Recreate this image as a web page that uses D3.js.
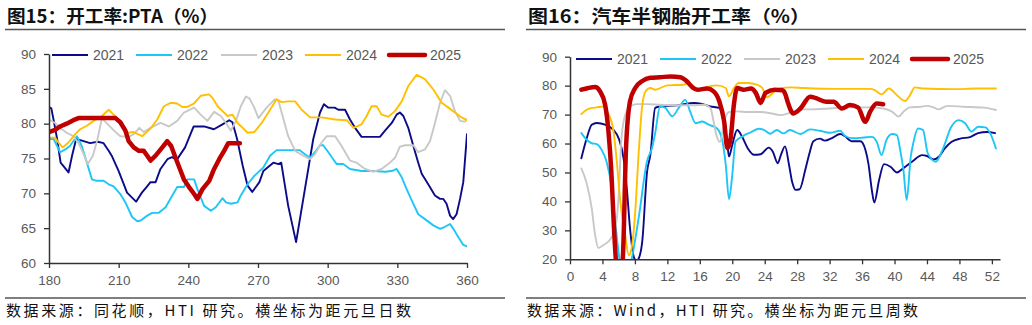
<!DOCTYPE html>
<html><head><meta charset="utf-8">
<script src="https://cdn.jsdelivr.net/npm/d3@7"></script>
<style>body{margin:0;background:#fff}svg{display:block}</style>
</head><body>
<svg id="c" width="1032" height="325"></svg>
<script>
// ---------- DATA ----------
const years = ["2021","2022","2023","2024","2025"];
const colors = ["#0b0b8a","#1ec6f6","#c8c8c8","#ffc000","#c00000"];

const leftTitle = "图15：开工率:PTA（%）";
const rightTitle = "图16：汽车半钢胎开工率（%）";
const leftSource = "数据来源：同花顺，HTI 研究。横坐标为距元旦日数";
const rightSource = "数据来源：Wind，HTI 研究。横坐标为距元旦周数";

const leftXTicks = [180,210,240,270,300,330,360];
const leftYTicks = [60,65,70,75,80,85,90];
const rightXTicks = [0,4,8,12,16,20,24,28,32,36,40,44,48,52];
const rightYTicks = [20,30,40,50,60,70,80,90];

// PTA operating rate, [day from Jan 1, %]
const pta2021 = [[180,82.4],[181,82.2],[182,80.5],[183.5,77.8],[185,74.4],[186.5,73.8],[188.4,73],[190,75.5],[191.7,77.8],[194.9,77.5],[197.7,77.2],[201,77.4],[203.5,77.2],[205.7,76.1],[207,75.4],[210,73.2],[213.6,70.1],[217.5,68.8],[220,70.1],[222,70.9],[223.7,71.6],[225.9,71.6],[228,73.5],[231,74.9],[233,75.2],[235,74.8],[238.6,76.6],[242.3,79.6],[246.8,79.6],[251,79.2],[254.7,79.9],[257.6,80.5],[259,80.2],[261,77.8],[263.4,74],[265.5,71.1],[267.5,70.2],[270.6,71.6],[272.3,73.2],[276.6,74.4],[278.8,74.2],[280,74.4],[283,68.2],[286.4,63],[290.2,70.6],[293.8,77.8],[296.7,81.6],[298.4,82.8],[300.3,82.3],[303,82.3],[304.6,82],[307.5,82],[309.6,80.6],[311.8,79.4],[314.6,78.1],[318.2,78.1],[322.5,78.1],[324.7,79],[327.6,80.1],[329.7,81.3],[331.1,81.6],[332.6,81.1],[334.7,79.4],[336.9,76.8],[339,74.4],[340.5,72.8],[343.3,71.3],[346.2,69.7],[348.4,69.2],[349.8,69.2],[351.2,68.5],[352.7,66.8],[354,66.3],[355.5,67],[357,69.2],[358.4,71.6],[360,78.5]];
const pta2022 = [[180,77.8],[182,77.8],[184.8,75.9],[187,76.3],[189,76.8],[192,78.2],[194.1,76.8],[196.3,74.4],[198.5,72],[200.6,71.8],[203.5,71.8],[205.7,71.3],[207.8,71],[210.7,69.9],[212.9,68.7],[215.8,66.6],[218,66],[219.5,66.1],[222.3,66.8],[224.4,67.2],[227.3,67.2],[230.2,68],[233.1,69.7],[235.2,70.9],[238.1,70.9],[239.6,72],[242.5,72],[243.9,70.6],[246.8,68.2],[249.7,67.5],[251.8,68],[254.7,69.3],[256.2,68.7],[258.3,68.5],[261.2,68.7],[262.6,69.7],[265.5,71.3],[268.4,72.5],[272.3,73.7],[275.2,75.4],[278,76.2],[283,76.2],[288,76.2],[290.2,75.6],[292.4,75.1],[294.5,75.9],[296.7,76.9],[298.1,76.9],[300.3,75.9],[302.4,74.9],[303.9,74.2],[306.7,74.2],[309.6,73.5],[314.6,73.2],[320.4,73.2],[324.7,73.1],[327.6,73.2],[329.7,73.5],[331.9,72.3],[334,70.6],[336.2,69],[339,67],[341.9,66.3],[345.5,65.4],[348.4,64.9],[350.5,65.2],[352.7,65.6],[354.1,64.9],[356.3,63.7],[358.4,62.6],[360,62.4]];
const pta2023 = [[180,80.6],[182.6,80.1],[184.8,79.4],[187.6,78.7],[190.5,78.2],[192.7,77.2],[194.6,75.9],[196.7,74.2],[198.9,75.4],[200.9,77.8],[202.8,80.8],[205,80],[208,79],[210.7,78.2],[214.3,78.1],[216.5,78.5],[218.9,79.4],[220.8,78.8],[223.7,79.4],[228,80.1],[231.6,79.6],[235.2,80.4],[238.1,81.6],[242.5,82.3],[245.3,81.3],[248.2,80.4],[251.1,81.7],[254,81.1],[256.2,80.1],[258.3,79],[260.5,80.4],[262.6,82.5],[264.8,83.9],[266.4,83.6],[268.4,82.3],[270.2,80.8],[273.7,82.3],[277.3,83.5],[278.8,83.3],[281,80.6],[283,78.2],[286,76.1],[289.5,75.4],[292.4,74.9],[294.5,75.6],[297.4,77.3],[299.6,78.2],[303.2,78.2],[306,76.8],[309.6,74.7],[312.5,74.4],[316.1,73.5],[319.7,73.1],[323.2,73.5],[326.8,74.4],[329,75.1],[331.1,76.7],[333.3,76.9],[336.9,76.9],[339,75.9],[341.9,76.3],[344.1,77.5],[346.2,80.1],[348.4,83],[350.5,84.8],[352.7,84],[354.8,81.8],[357,80.4],[359.1,80.3],[360,80.6]];
const pta2024 = [[180,78],[182.6,78],[184,77.3],[185.9,76.6],[188.4,77.3],[191.3,78.5],[193.4,79.2],[196.3,79.7],[199.2,80.4],[202.8,81.1],[205.7,82],[207.8,81.3],[210.7,80.4],[213.6,78.7],[216.5,78.8],[220.1,78.2],[223.7,79.3],[226.6,80.6],[229.5,82.5],[232.4,83],[235.2,82.9],[237.4,82.4],[239.6,82.4],[242.5,82.9],[245.3,84],[248.9,84.2],[250.4,83.7],[252.6,82.5],[254.7,81.8],[256.9,81.1],[259,81.3],[261.2,80.1],[263.4,79.4],[265.5,78.7],[268.4,78.8],[271.6,80.1],[275.2,82],[278,83.5],[280.2,83.1],[283,83.2],[286,83.2],[288.8,82],[292.4,80.9],[297.4,80.9],[303.2,80.6],[308.2,80.5],[311.1,79.4],[314.6,79.9],[316.8,81.1],[318.9,82.5],[321.1,82.5],[323.2,81.3],[326.1,81],[329,81.8],[331.9,83.2],[334.7,85.4],[338.3,87],[341.9,86.4],[345.5,84.9],[349.1,83],[352,82.3],[354.8,81.6],[357.7,80.9],[360,80.5]];
const pta2025 = [[180,78.8],[182.6,79.1],[184.8,79.6],[187.6,80],[190.5,80.5],[192.7,80.8],[197.7,80.8],[205,80.8],[208.6,80.8],[210.7,80.2],[212.9,79],[214.3,77.5],[216.5,76.6],[218.7,76.1],[220.8,76.1],[222.3,75.4],[223.7,74.7],[225.9,75.4],[228.8,76.6],[230.9,77.5],[232.6,76.8],[234.5,75.1],[236.7,73.2],[238.1,72],[240.3,70.9],[242.5,69.9],[243.9,69.2],[246.1,70.6],[249,71.8],[251.1,73.5],[253.3,74.9],[255.4,76.1],[257.2,77.2],[259.8,77.2],[262.2,77.2]];

// Semi-steel tire operating rate, [week from Jan 1, %]
const tire2021 = [[1.4,54.9],[2.06,61.8],[2.68,66.5],[3.3,67.1],[4.33,66.5],[5.36,64.7],[6,61.8],[6.6,54.9],[7,44.5],[7.4,30.6],[7.9,20.5],[8.2,19.5],[8.5,20.5],[8.9,26],[9.5,50.3],[9.9,56],[10.5,72.3],[11.1,72.8],[13.2,73.2],[15.3,74],[16.1,73.8],[17.3,72.8],[18.4,72.3],[19,66.5],[19.4,59.5],[19.6,55.5],[20,59.5],[20.6,64.7],[21.2,62.4],[21.9,58.4],[22.7,56.1],[23.5,56.3],[24.5,58.6],[25,57.2],[25.6,53.2],[26,56.1],[26.5,59],[27,52.6],[27.4,46.5],[27.8,44],[28.3,44.2],[29,50.9],[29.5,56.5],[30,60.8],[30.8,61.7],[31.4,61],[32.3,61.9],[33.3,63.3],[33.9,62.5],[34.7,60.8],[35.8,60.8],[36.4,57.9],[36.8,52.7],[37.2,44],[37.5,39.6],[38.1,47.4],[38.7,52.9],[39.5,52],[40.3,50],[41.1,51.5],[42.2,53.8],[43.4,56],[44,55.7],[44.8,54.5],[45.5,55.5],[46.2,58.3],[47,60.5],[48.1,61.7],[49.3,62.2],[50.3,63.6],[51.4,64],[52.4,63.6]];
const tire2022 = [[1.4,63.6],[2.06,61.3],[2.68,60.1],[3.3,59.8],[3.9,57.8],[4.5,53.8],[5.15,44.5],[5.57,33],[6.1,20],[6.8,12],[7.6,20],[8.5,35],[9.5,54],[10.1,58.4],[10.5,63.6],[11.1,72.8],[11.75,72.3],[12.6,69.4],[13.4,72.3],[14.2,75.1],[14.8,71.1],[15.5,67],[16.3,67.6],[17.1,66.5],[18.1,65.3],[18.8,60.7],[19.2,52.6],[19.6,40.8],[20,49.1],[20.4,60.7],[21.2,62.4],[22.3,63.9],[23.3,65.1],[23.9,64.7],[24.7,63.4],[25.5,64.7],[26.3,63.5],[27.1,64.7],[28.4,63.3],[29.6,64.9],[30.8,64.4],[32,63.7],[33.3,64.4],[33.9,62.6],[34.9,61.8],[36.2,62.1],[37.2,62.3],[37.8,60.6],[38.4,56],[39,61.2],[39.7,63.3],[40.3,62.9],[40.7,57.7],[41.1,50.8],[41.5,40.5],[42,55.5],[42.3,60],[42.9,65.2],[43.5,64.7],[44.1,56.6],[45.1,53.7],[45.9,57.7],[47,65.8],[47.9,68.1],[48.7,67],[49.5,64.1],[50.3,65.8],[51.2,65.6],[51.8,63.5],[52.5,58.3]];
const tire2023 = [[1.4,51.4],[2.06,46.2],[2.68,37.6],[3.1,28.3],[3.5,23.9],[4.1,24.9],[5.0,27],[5.6,31],[6.0,42],[6.3,60],[6.7,68.8],[7.4,72.8],[8.25,73.6],[9.5,73.6],[11.1,73.4],[13.2,73.2],[15.3,73.2],[16.5,73.4],[17.3,72.3],[17.7,67.6],[18.1,62.4],[18.5,60.5],[19,67.6],[19.6,70.9],[20.6,71.1],[21.9,70.9],[23.5,70.9],[25.2,70.2],[25.9,69.8],[27.1,70.6],[28.4,71.8],[29.6,71.8],[32,72.1],[34.5,72.5],[37,72.5],[38.6,72.1],[39.7,71],[40.5,69.3],[41.1,71],[41.9,72.5],[43.2,72.7],[44,73],[44.8,72.5],[45.4,71.8],[46.5,73],[48.5,72.7],[51,72.4],[52.5,71.6]];
const tire2024 = [[1.4,70.2],[2.27,72],[3.3,72.5],[4.1,72.8],[4.7,70.5],[5.36,64.2],[5.77,53.8],[6.2,39.9],[6.8,28.3],[7.25,21.4],[7.6,24],[8.04,36.4],[8.45,56.1],[8.87,72.3],[9.3,78],[9.9,79.2],[10.5,78.6],[12,80.1],[14,80.3],[14.6,80.9],[15.3,79.2],[16.1,78.3],[16.7,79.4],[18.1,80.1],[19.2,79.2],[19.6,76.3],[20.2,79.2],[20.8,80.9],[21.9,80.9],[23.1,80.3],[23.7,79.2],[24.3,76],[25.2,78],[26,79.2],[27.2,79.4],[28.8,79.2],[32.9,78.9],[37,78.9],[37.6,78.4],[38.4,77],[39.3,79],[40.3,76.7],[41.3,74.7],[41.9,76.7],[42.5,79.4],[43.6,79],[47.3,78.8],[50.1,79],[52.5,79]];
const tire2025 = [[1.4,78.6],[2.27,79.2],[3.1,79.5],[3.7,78],[4.33,73.4],[4.74,64.2],[5.1,50],[5.4,32],[5.65,20],[6.0,12],[6.5,20],[6.9,58],[7.4,74.6],[8.04,79.2],[8.87,81.5],[9.9,82.7],[11.1,82.9],[12.4,83.2],[13.6,82.9],[14.4,81.5],[15.1,79.4],[15.7,78.6],[16.9,79],[17.7,78],[18.4,74.6],[19,67.6],[19.4,58.4],[19.8,61.8],[20.2,73.4],[20.6,79.2],[21.4,78.6],[22.3,79],[22.9,77.5],[23.5,74],[24.1,77.5],[25.2,78.6],[26.2,78.4],[26.5,77.3],[26.9,73.8],[27.5,70.4],[28.4,72.1],[29.6,76.2],[30.4,75.6],[31.6,74.4],[32.5,74.4],[33.5,72.1],[34.5,73.3],[35.5,72.5],[36.4,67.5],[37,71],[37.8,73.8],[38.6,73.6]];

const ptaSeries = [pta2021, pta2022, pta2023, pta2024, pta2025];
const tireSeries = [tire2021, tire2022, tire2023, tire2024, tire2025];

// ---------- DRAW ----------
const svg = d3.select("#c");
const FONT = "'Liberation Sans', Arial, sans-serif";
const CJK = "'Noto Sans CJK SC', sans-serif";
const TXT = "#595959";

function frame(x0, x1, title, titleLen, source, sourceLen){
  svg.append("text").attr("x", x0+2).attr("y", 23).attr("font-family", CJK)
    .attr("font-weight", "bold").attr("font-size", 18).attr("fill", "#111")
    .attr("textLength", titleLen).attr("lengthAdjust", "spacingAndGlyphs").text(title);
  svg.append("line").attr("x1", x0).attr("x2", x1).attr("y1", 29.5).attr("y2", 29.5)
    .attr("stroke", "#555").attr("stroke-width", 1.5);
  svg.append("line").attr("x1", x0).attr("x2", x1).attr("y1", 298).attr("y2", 298)
    .attr("stroke", "#555").attr("stroke-width", 1.5);
  svg.append("text").attr("x", x0+1).attr("y", 316).attr("font-family", CJK)
    .attr("font-size", 15).attr("fill", "#111")
    .attr("textLength", sourceLen).attr("lengthAdjust", "spacing").text(source);
}

function chart(opt){
  const x = d3.scaleLinear().domain(opt.xDomain).range(opt.xRange);
  const y = d3.scaleLinear().domain(opt.yDomain).range(opt.yRange);
  const g = svg.append("g");
  const clipId = "clip" + opt.id;
  svg.append("defs").append("clipPath").attr("id", clipId).append("rect")
    .attr("x", opt.xRange[0]).attr("y", opt.yRange[1] - 2)
    .attr("width", opt.xRange[1] - opt.xRange[0]).attr("height", opt.yRange[0] - opt.yRange[1] + 2);

  const line = d3.line().x(d => x(d[0])).y(d => y(d[1])).curve(opt.curve);
  const lg = g.append("g").attr("clip-path", `url(#${clipId})`);
  opt.series.forEach((s, i) => {
    lg.append("path").datum(s).attr("d", line).attr("fill", "none")
      .attr("stroke", colors[i]).attr("stroke-width", i === 4 ? 4.5 : 1.9)
      .attr("stroke-linejoin", "round").attr("stroke-linecap", "round");
  });

  // axes
  const ax = g.append("g").attr("transform", `translate(0,${opt.yRange[0]})`)
    .call(d3.axisBottom(x).tickValues(opt.xTicks).tickSize(5).tickSizeOuter(0).tickPadding(7).tickFormat(d3.format("d")));
  const ay = g.append("g").attr("transform", `translate(${opt.xRange[0]},0)`)
    .call(d3.axisLeft(y).tickValues(opt.yTicks).tickSize(5).tickSizeOuter(0).tickPadding(opt.yPad).tickFormat(d3.format("d")));
  [ax, ay].forEach(a => {
    a.select(".domain").attr("stroke", "#333").attr("stroke-width", 1.5);
    a.selectAll(".tick line").attr("stroke", "#333").attr("stroke-width", 1.3);
    a.selectAll(".tick text").attr("fill", TXT).attr("font-family", FONT).attr("font-size", 13.5);
  });

  // legend
  const lgd = g.append("g");
  years.forEach((yr, i) => {
    const lx = opt.legendX[i];
    lgd.append("line").attr("x1", lx).attr("x2", lx + 36).attr("y1", opt.legendY).attr("y2", opt.legendY)
      .attr("stroke", colors[i]).attr("stroke-width", i === 4 ? 4.5 : 2)
      .attr("stroke-linecap", i === 4 ? "round" : "butt");
    lgd.append("text").attr("x", lx + 41).attr("y", opt.legendY + 5)
      .attr("font-family", FONT).attr("font-size", 14).attr("fill", TXT).text(yr);
  });
}

frame(5, 505, leftTitle, 211, leftSource, 405);
frame(526, 1026, rightTitle, 282, rightSource, 391);

chart({
  id: "L", series: ptaSeries, curve: d3.curveLinear,
  xDomain: [180, 360], xRange: [49, 467],
  yDomain: [60, 90], yRange: [263, 54],
  xTicks: leftXTicks, yTicks: leftYTicks, yPad: 8,
  legendX: [52, 136, 221, 305, 389], legendY: 55
});
chart({
  id: "R", series: tireSeries, curve: d3.curveMonotoneX,
  xDomain: [0, 53], xRange: [570, 1000],
  yDomain: [20, 90], yRange: [259.3, 56.7],
  xTicks: rightXTicks, yTicks: rightYTicks, yPad: 8,
  legendX: [576, 660, 744, 828, 912], legendY: 59
});
</script>
</body></html>
